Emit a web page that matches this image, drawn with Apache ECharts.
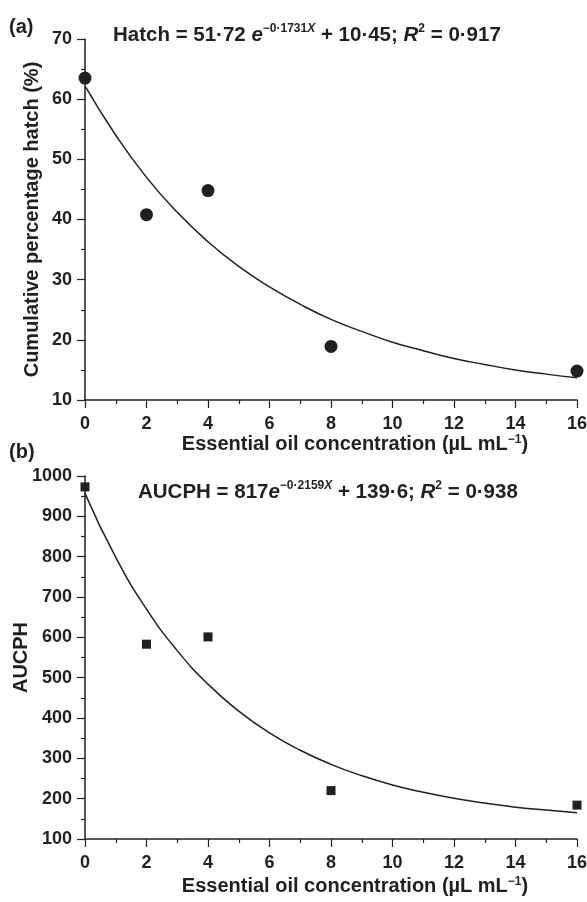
<!DOCTYPE html>
<html>
<head>
<meta charset="utf-8">
<script src="https://cdn.jsdelivr.net/npm/echarts@6/dist/echarts.min.js"></script>
<style>
  html, body { margin: 0; padding: 0; background: #fff; }
  #chart { width: 587px; height: 902px; }
</style>
</head>
<body>
<div id="chart"></div>
<script>
// measured points
var concX = [0, 2, 4, 8, 16];
var hatchY = [63.5, 40.8, 44.8, 18.9, 14.8];
var aucphY = [973, 583, 601, 220, 184];

// fitted curves
var fitX = [0, 1, 2, 3, 4, 5, 6, 7, 8, 9, 10, 11, 12, 13, 14, 15, 16];
var hatchFit = [62.2, 54.0, 47.0, 41.2, 36.3, 32.2, 28.8, 25.9, 23.4, 21.4, 19.6, 18.2, 16.9, 15.9, 15.0, 14.3, 13.7];
var aucphFit = [957, 798, 670, 567, 484, 417, 363, 320, 285, 257, 234, 216, 201, 189, 179, 172, 165];

var hatchTicks = [10, 70, 10];   // min, max, step
var aucphTicks = [100, 1000, 100];
var xTicks = [0, 16, 2];

var font = "'Liberation Sans', Arial, sans-serif";
var ink = '#231f20';

function pairs(xs, ys) {
    var out = [];
    for (var i = 0; i < xs.length; i++) out.push([xs[i], ys[i]]);
    return out;
}

function xAxisOpt(idx, gap) {
    return {
        type: 'value', gridIndex: idx,
        min: xTicks[0], max: xTicks[1], interval: xTicks[2],
        name: 'Essential oil concentration (µL mL{sup|−1})',
        nameLocation: 'middle', nameGap: gap,
        nameTextStyle: {
            fontFamily: font, fontWeight: 'bold', fontSize: 20, color: ink,
            padding: [0, 0, 0, 48],
            rich: {sup: {fontFamily: font, fontWeight: 'bold', fontSize: 12, verticalAlign: 'top', lineHeight: 12, color: ink}}
        },
        axisLine: {lineStyle: {color: ink, width: 1.5}},
        axisTick: {length: 8, lineStyle: {color: ink, width: 1.2}},
        minorTick: {show: true, splitNumber: 2, length: 4, lineStyle: {color: ink, width: 1.2}},
        splitLine: {show: false},
        axisLabel: {fontFamily: font, fontWeight: 'bold', fontSize: 18, color: ink, margin: 15}
    };
}

function yAxisOpt(idx, t, name, gap) {
    return {
        type: 'value', gridIndex: idx,
        min: t[0], max: t[1], interval: t[2],
        name: name, nameLocation: 'middle', nameGap: gap, nameRotate: 90,
        nameMoveOverlap: false,
        nameTextStyle: {fontFamily: font, fontWeight: 'bold', fontSize: 20, color: ink},
        axisLine: {show: true, lineStyle: {color: ink, width: 1.5}},
        axisTick: {show: true, length: 8, lineStyle: {color: ink, width: 1.2}},
        minorTick: {show: true, splitNumber: 2, length: 4, lineStyle: {color: ink, width: 1.2}},
        splitLine: {show: false},
        axisLabel: {
            fontFamily: font, fontWeight: 'bold', fontSize: 18, color: ink, margin: 13,
            formatter: function (v) { return String(v); }
        }
    };
}

var titleRich = {
    n: {fontFamily: font, fontWeight: 'bold', fontSize: 20.5, color: ink, lineHeight: 24},
    i: {fontFamily: font, fontWeight: 'bold', fontStyle: 'italic', fontSize: 20.5, color: ink, lineHeight: 24},
    sup: {fontFamily: font, fontWeight: 'bold', fontSize: 12, color: ink, verticalAlign: 'top', lineHeight: 14},
    supi: {fontFamily: font, fontWeight: 'bold', fontStyle: 'italic', fontSize: 12, color: ink, verticalAlign: 'top', lineHeight: 14}
};

var chart = echarts.init(document.getElementById('chart'));
var option = {
    backgroundColor: '#fff',
    animation: false,
    title: [
        {
            text: '{n|Hatch = 51·72 }{i|e}{sup|−0·1731}{supi|X}{n| + 10·45; }{i|R}{sup|2}{n| = 0·917}',
            left: 113, top: 23, padding: 0,
            textStyle: {rich: titleRich}
        },
        {
            text: '{n|AUCPH = 817}{i|e}{sup|−0·2159}{supi|X}{n| + 139·6; }{i|R}{sup|2}{n| = 0·938}',
            left: 138, top: 480, padding: 0,
            textStyle: {rich: titleRich}
        }
    ],
    graphic: [
        {type: 'text', left: 9, top: 17, style: {text: '(a)', font: 'bold 20px ' + font, fill: ink}},
        {type: 'text', left: 9, top: 442, style: {text: '(b)', font: 'bold 20px ' + font, fill: ink}}
    ],
    grid: [
        {left: 85, right: 10, top: 39, height: 361, outerBoundsMode: 'none'},
        {left: 85, right: 10, top: 476, height: 363, outerBoundsMode: 'none'}
    ],
    xAxis: [xAxisOpt(0, 34), xAxisOpt(1, 37)],
    yAxis: [
        yAxisOpt(0, hatchTicks, 'Cumulative percentage hatch (%)', 43),
        yAxisOpt(1, aucphTicks, 'AUCPH', 54)
    ],
    series: [
        {
            type: 'line', xAxisIndex: 0, yAxisIndex: 0,
            data: pairs(fitX, hatchFit), smooth: true, showSymbol: false,
            lineStyle: {color: ink, width: 1.5}, z: 1
        },
        {
            type: 'scatter', xAxisIndex: 0, yAxisIndex: 0,
            data: pairs(concX, hatchY), symbol: 'circle', symbolSize: 13,
            itemStyle: {color: ink, opacity: 1}, z: 3
        },
        {
            type: 'line', xAxisIndex: 1, yAxisIndex: 1,
            data: pairs(fitX, aucphFit), smooth: true, showSymbol: false,
            lineStyle: {color: ink, width: 1.5}, z: 1
        },
        {
            type: 'scatter', xAxisIndex: 1, yAxisIndex: 1,
            data: pairs(concX, aucphY), symbol: 'rect', symbolSize: 9,
            itemStyle: {color: ink, opacity: 1}, z: 3
        }
    ]
};
chart.setOption(option);
</script>
</body>
</html>
